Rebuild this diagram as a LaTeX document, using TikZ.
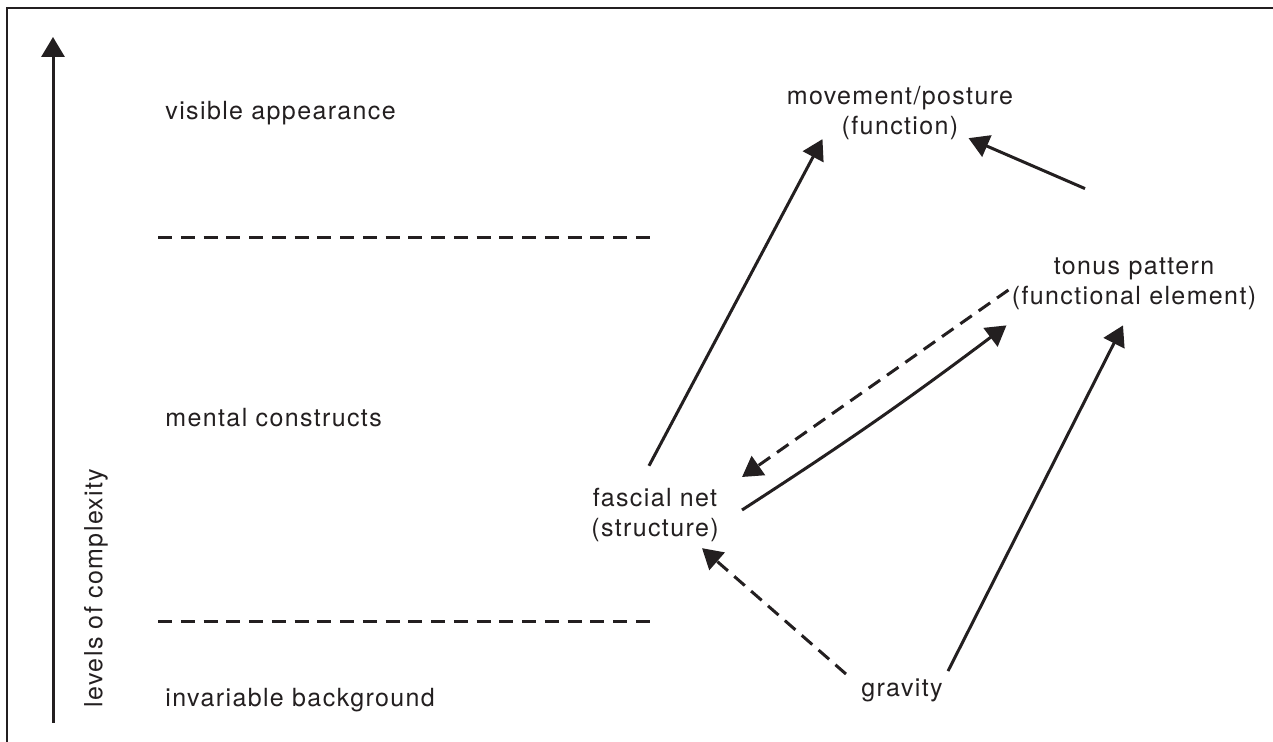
\documentclass[tikz,border=0pt]{standalone}
\usepackage{fontspec}
\setmainfont[LetterSpace=5.5]{TeX Gyre Heros}
\usetikzlibrary{arrows.meta}
\definecolor{ink}{RGB}{35,31,32}

\begin{document}
\begin{tikzpicture}[x=0.5pt,y=0.5pt,
    every node/.style={font=\fontsize{12.5}{15}\selectfont, text=ink,
        inner sep=0pt, align=center},
    link/.style={line width=1.5pt, draw=ink,
        -{Triangle[length=10pt,width=11.5pt]}},
    dashlink/.style={link, dash pattern=on 7pt off 4.2pt},
    border/.style={line width=1.5pt, draw=ink, dash pattern=on 7pt off 4.38pt}]
\useasboundingbox (0,0) rectangle (1273,742);
\clip (0,0) rectangle (1273,742);

% frame, cut off at the right and at the bottom
\draw[ink, line width=1.2pt] (7,-10) -- (7,734) -- (1290,734);

% axis on the left
\coordinate (axisbot) at (53,19);
\coordinate (axistop) at (53,705);
\draw[link] (axisbot) -- (axistop);
\node[rotate=90] (complexity) at (96,154) {levels of complexity};

% the three levels and the borders between them
\node[anchor=west] (visible)    at (165,629) {visible appearance};
\node[anchor=west] (mental)     at (165,324) {mental constructs};
\node[anchor=west] (invariable) at (165,42)  {invariable background};

\coordinate (upperL) at (158,504);
\coordinate (upperR) at (650,504);
\coordinate (lowerL) at (158,120);
\coordinate (lowerR) at (650,120);
\draw[border] (upperL) -- (upperR);
\draw[border] (lowerL) -- (lowerR);

% the elements
\node (movement) at (900,629)  {movement/posture\\(function)};
\node (tonus)    at (1134,458) {tonus pattern\\(functional element)};
\node (fascial)  at (655,227)  {fascial net\\(structure)};
\node (gravity)  at (902,52)   {gravity};

% how they act on each other
\draw[link] ([shift={(-6,22)}]fascial.north) -- ([shift={(36,1)}]movement.south west);
\draw[link] ([shift={(-49,69)}]tonus.north) -- ([shift={(-45,2)}]movement.south east);
\draw[dashlink] ([shift={(-3,-6)}]tonus.west) -- ([shift={(23,38)}]fascial.east);
\draw[link] ([shift={(23,5)}]fascial.east) to[bend right=2] ([shift={(-5,-15)}]tonus.south west);
\draw[dashlink] ([shift={(-15,4)}]gravity.north west) -- ([shift={(-17,-6)}]fascial.south east);
\draw[link] ([shift={(5,7)}]gravity.north east) -- ([shift={(-11,-15)}]tonus.south);

\end{tikzpicture}
\end{document}
